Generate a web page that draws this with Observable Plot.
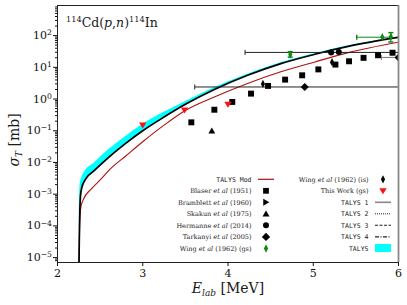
<!DOCTYPE html>
<html><head><meta charset="utf-8">
<script src="https://cdn.jsdelivr.net/npm/d3@7"></script>
<script src="https://cdn.jsdelivr.net/npm/@observablehq/plot@0.6"></script>
<style>body{margin:0;background:#fff} svg{display:block;background:#fff}</style>
</head><body><div id="chart"></div>
<script>
// ---- TALYS (lines 1-4, nearly coincident) ----
const talysE = [2.252, 2.258, 2.262, 2.27, 2.285, 2.33, 2.43, 2.6, 2.8, 3.0, 3.25, 3.5, 3.84, 4.23, 4.62, 5.02, 5.41, 6.0];
const talysS = [7e-6, 1e-4, 3e-4, 9e-4, 1.6e-3, 3.0e-3, 5.5e-3, 0.0145, 0.04, 0.1, 0.27, 0.68, 2.0, 5.6, 13.1, 25.8, 45.6, 88];
// ---- TALYS band ----
const bandE  = [2.256, 2.262, 2.27, 2.285, 2.33, 2.43, 2.6, 2.8, 3.0, 3.25, 3.5, 3.84, 4.23, 4.62, 5.02, 5.41, 6.0];
const bandLo = [1e-4, 2.5e-4, 7.5e-4, 1.4e-3, 2.6e-3, 4.8e-3, 0.013, 0.037, 0.092, 0.25, 0.64, 1.9, 5.4, 12.7, 25, 44.5, 86];
const bandHi = [3e-4, 1.5e-3, 2.4e-3, 3.3e-3, 5.6e-3, 9.5e-3, 0.025, 0.066, 0.16, 0.38, 0.82, 2.25, 6.1, 14, 27, 47.5, 91];
// ---- TALYS Mod ----
const modE = [2.253, 2.262, 2.275, 2.3, 2.4, 2.5, 2.62, 2.8, 3.0, 3.25, 3.49, 3.84, 4.23, 4.62, 5.02, 5.41, 6.0];
const modS = [7e-6, 1.5e-4, 4e-4, 6.5e-4, 1.5e-3, 2.8e-3, 6.3e-3, 0.016, 0.045, 0.15, 0.42, 1.16, 3.1, 7.2, 14.8, 29, 62];
// ---- experimental data ----
const blaserE = [3.57, 3.84, 4.05, 4.27, 4.47, 4.67, 4.87, 5.06, 5.26, 5.42, 5.59, 5.76, 5.93];
const blaserS = [0.184, 0.46, 0.81, 1.48, 2.59, 4.09, 5.6, 8.6, 12.2, 15.5, 19.9, 24.0, 28.8];
const skakunE = [3.81];
const skakunS = [0.1];
const hermanneE = [5.21, 5.30];
const hermanneS = [29.5, 30.5];
const hermanneXlo = [4.2];
const hermanneXhi = [6.22];
const hermanneErrE = [5.21];
const hermanneErrS = [29.5];
const tarkanyiE = [4.90, 6.0];
const tarkanyiS = [2.4, 20.5];
const tarkanyiXlo = [3.61, 5.8];
const tarkanyiXhi = [6.19, 6.2];
const wingIsE = [4.41, 5.22];
const wingIsS = [3.0, 14.5];
const wingGsE = [4.73, 5.81, 5.91];
const wingGsS = [25.5, 89, 92];
const wingGsYlo = [21, 89, 63];
const wingGsYhi = [31, 89, 124];
const wingGsXlo = [4.73, 5.51, 5.91];
const wingGsXhi = [4.73, 5.91, 5.91];
const thisWorkE = [3.0, 3.49, 4.0];
const thisWorkS = [0.15, 0.45, 0.68];
// ---- ticks ----
const xTicks = [2, 3, 4, 5, 6];
const yMajor = [1e-5, 1e-4, 1e-3, 1e-2, 1e-1, 1, 10, 100];

const zip = (xs, ys) => xs.map((x, i) => ({x, y: ys[i]}));
const talys = zip(talysE, talysS);
const band = bandE.map((x, i) => ({x, lo: bandLo[i], hi: bandHi[i]}));
const mod = zip(modE, modS);
const blaser = zip(blaserE, blaserS);
const skakun = zip(skakunE, skakunS);
const hermanne = zip(hermanneE, hermanneS);
const hermErr = hermanneErrE.map((x, i) => ({x, y: hermanneErrS[i], x1: hermanneXlo[i], x2: hermanneXhi[i]}));
const tarkanyi = zip(tarkanyiE, tarkanyiS);
const tarkErr = tarkanyiE.map((x, i) => ({x, y: tarkanyiS[i], x1: tarkanyiXlo[i], x2: tarkanyiXhi[i]}));
const wingIs = zip(wingIsE, wingIsS);
const wingGs = wingGsE.map((x, i) => ({x, y: wingGsS[i], y1: wingGsYlo[i], y2: wingGsYhi[i], x1: wingGsXlo[i], x2: wingGsXhi[i]}));
const wingGsH = wingGs.filter(d => d.x1 !== d.x2);
const wingGsV = wingGs.filter(d => d.y1 !== d.y2);
const thisWork = zip(thisWorkE, thisWorkS);

const yMinor = [];
for (let k = -6; k <= 2; k++) for (let m = 2; m <= 9; m++) { const v = m * Math.pow(10, k); if (v > 7e-6 && v < 890) yMinor.push(v); }

// custom symbols
const R = r => Math.sqrt(r / Math.PI);
const symTriDown = {draw(c, s) { const r = R(s); c.moveTo(-r*1.15, -r*0.8); c.lineTo(r*1.15, -r*0.8); c.lineTo(0, r*1.05); c.closePath(); }};
const symTriUp = {draw(c, s) { const r = R(s); c.moveTo(-r*1.1, r*0.85); c.lineTo(r*1.1, r*0.85); c.lineTo(0, -r*1.05); c.closePath(); }};
const symTriRight = {draw(c, s) { const r = R(s); c.moveTo(-r*0.85, -r*1.1); c.lineTo(-r*0.85, r*1.1); c.lineTo(r*1.05, 0); c.closePath(); }};
const symDiamond = {draw(c, s) { const r = R(s); c.moveTo(0, -r*1.3); c.lineTo(r*1.3, 0); c.lineTo(0, r*1.3); c.lineTo(-r*1.3, 0); c.closePath(); }};
const symThin = {draw(c, s) { const r = R(s); c.moveTo(0, -r*1.3); c.lineTo(r*0.65, 0); c.lineTo(0, r*1.3); c.lineTo(-r*0.65, 0); c.closePath(); }};
const symSquare = {draw(c, s) { const r = R(s)*0.9; c.rect(-r, -r, 2*r, 2*r); }};
const symVbar = {draw(c) { c.moveTo(0, -2.5); c.lineTo(0, 2.5); }};
const symHbar = {draw(c) { c.moveTo(-2.5, 0); c.lineTo(2.5, 0); }};

const W = 407, H = 305, mL = 57, mR = 9, mT = 5, mB = 43;
const serif = "DejaVu Serif";
const mono = "DejaVu Sans Mono";

const plot = Plot.plot({
  width: W, height: H,
  marginLeft: mL, marginRight: mR, marginTop: mT, marginBottom: mB,
  style: {fontFamily: serif, fontSize: "11px", color: "#111", background: "#fff"},
  x: {domain: [2, 6]},
  y: {type: "log", domain: [7e-6, 890]},
  marks: [
    Plot.areaY(band, {x: "x", y1: "lo", y2: "hi", fill: "#00ffff", curve: "monotone-x", clip: true}),
    Plot.line(mod, {x: "x", y: "y", stroke: "#b01010", strokeWidth: 1.1, curve: "monotone-x", clip: true}),
    Plot.line(talys, {x: "x", y: "y", stroke: "#000", strokeWidth: 1.7, curve: "monotone-x", clip: true}),
    // error bars
    Plot.link(tarkErr, {x1: "x1", x2: "x2", y1: "y", y2: "y", stroke: (d, i) => i === 0 ? "#222" : "#777", strokeWidth: 1, clip: true}),
    Plot.dot(tarkErr, {x: "x1", y: "y", symbol: symVbar, stroke: (d, i) => i === 0 ? "#222" : "#777", fill: "none", strokeWidth: 1, clip: true}),
    Plot.link(hermErr, {x1: "x1", x2: "x2", y1: "y", y2: "y", stroke: "#222", strokeWidth: 1, clip: true}),
    Plot.dot(hermErr, {x: "x1", y: "y", symbol: symVbar, stroke: "#222", fill: "none", strokeWidth: 1, clip: true}),
    Plot.link(wingGsH, {x1: "x1", x2: "x2", y1: "y", y2: "y", stroke: "#118811", strokeWidth: 1, clip: true}),
    Plot.dot(wingGsH, {x: "x1", y: "y", symbol: symVbar, stroke: "#118811", fill: "none", clip: true}),
    Plot.link(wingGsV, {x1: "x", x2: "x", y1: "y1", y2: "y2", stroke: "#118811", strokeWidth: 1, clip: true}),
    Plot.dot(wingGsV, {x: "x", y: "y1", symbol: symHbar, stroke: "#118811", fill: "none", clip: true}),
    Plot.dot(wingGsV, {x: "x", y: "y2", symbol: symHbar, stroke: "#118811", fill: "none", clip: true}),
    // markers
    Plot.dot(blaser, {x: "x", y: "y", symbol: symSquare, r: 3.3, fill: "#000", clip: true}),
    Plot.dot(skakun, {x: "x", y: "y", symbol: symTriUp, r: 3.1, fill: "#000", clip: true}),
    Plot.dot(hermanne, {x: "x", y: "y", r: 3, fill: "#000", clip: true}),
    Plot.dot(tarkanyi, {x: "x", y: "y", symbol: symDiamond, r: 3.1, fill: "#000", clip: true}),
    Plot.dot(wingIs, {x: "x", y: "y", symbol: symThin, r: 3.2, fill: "#000", clip: true}),
    Plot.dot(wingGs, {x: "x", y: "y", symbol: symThin, r: 3.2, fill: "#118811", clip: true}),
    Plot.dot(thisWork, {x: "x", y: "y", symbol: symTriDown, r: 3.2, fill: "#ff1010", clip: true}),
    // frame
    Plot.frame({stroke: "#222", strokeWidth: 1}),
    Plot.ruleX([6], {stroke: "#888", strokeWidth: 1.8}),
    // axes
    Plot.axisX(xTicks, {tickSize: 4, tickPadding: 2.5, fontSize: 11, label: null, tickFormat: d => String(d)}),
    Plot.axisY(yMajor, {tickSize: 4, tickPadding: 1.5, fontSize: 11, label: null, tickFormat: d => "10^" + Math.round(Math.log10(d))}),
    Plot.axisY(yMinor, {tickSize: 2, label: null, tickFormat: () => ""})
  ]
});
document.getElementById("chart").appendChild(plot);

const svg = d3.select(plot);
// superscripts on y tick labels
svg.selectAll('g[aria-label="y-axis tick label"] text').each(function() {
  const t = this.textContent;
  if (!t.startsWith("10^")) return;
  const e = t.slice(3).replace("-", "\u2212");
  const s = d3.select(this);
  s.text("10");
  s.append("tspan").attr("dy", "-0.5em").attr("font-size", "0.7em").text(e);
});

const ink = "#1a1a1a";
function rich(g, x, y, parts, anchor, size, family) {
  const t = g.append("text").attr("x", x).attr("y", y).attr("text-anchor", anchor)
    .attr("font-size", size).attr("font-family", family || serif).attr("fill", ink);
  for (const p of parts) {
    const ts = t.append("tspan").text(p.t);
    if (p.i) ts.attr("font-style", "italic");
    if (p.s) ts.attr("font-size", p.s);
    if (p.dy) ts.attr("dy", p.dy);
    if (p.f) ts.attr("font-family", p.f);
  }
  return t;
}

// title
rich(svg, 66, 27, [
  {t: "114", s: 8.2, dy: -5}, {t: "Cd(", s: 12.5, dy: 5}, {t: "p", i: 1, s: 12.5}, {t: ",", s: 12.5},
  {t: "n", i: 1, s: 12.5}, {t: ")", s: 12.5}, {t: "114", s: 8.2, dy: -5}, {t: "In", s: 12.5, dy: 5}
], "start", 12.5);

// axis labels
rich(svg, 228, 293, [{t: "E", i: 1}, {t: "lab", i: 1, s: 9, dy: 3}, {t: " [MeV]", dy: -3}], "middle", 14);
const yl = svg.append("g").attr("transform", "translate(19,140) rotate(-90)");
rich(yl, 0, 0, [{t: "σ", i: 1}, {t: "T", i: 1, s: 9, dy: 3}, {t: " [mb]", dy: -3}], "middle", 14);

// legend
const lg = svg.append("g");
const rowY = [179.3, 190.8, 202.3, 213.8, 225.3, 236.9, 248.5];
const fs = 6.5;
const etal = (a, b) => [{t: a}, {t: "et al", i: 1}, {t: b}];
const leftRows = [
  {parts: [{t: "TALYS Mod", f: mono}], line: {stroke: "#b01010", w: 1.2}},
  {parts: etal("Blaser ", " (1951)"), sym: symSquare, fill: "#000"},
  {parts: etal("Bramblett ", " (1960)"), sym: symTriRight, fill: "#000"},
  {parts: etal("Skakun ", " (1975)"), sym: symTriUp, fill: "#000"},
  {parts: etal("Hermanne ", " (2014)"), sym: d3.symbolCircle, fill: "#000", r: 3},
  {parts: etal("Tarkanyi ", " (2005)"), sym: symDiamond, fill: "#000"},
  {parts: etal("Wing ", " (1962) (gs)"), sym: symThin, fill: "#118811"}
];
const rightRows = [
  {parts: etal("Wing ", " (1962) (is)"), sym: symThin, fill: "#000"},
  {parts: [{t: "This Work (gs)"}], sym: symTriDown, fill: "#ff1010"},
  {parts: [{t: "TALYS 1", f: mono}], line: {stroke: "#888", w: 1.6}},
  {parts: [{t: "TALYS 2", f: mono}], line: {stroke: "#222", w: 1, dash: "1,1"}},
  {parts: [{t: "TALYS 3", f: mono}], line: {stroke: "#222", w: 1.1, dash: "3,1.5"}},
  {parts: [{t: "TALYS 4", f: mono}], line: {stroke: "#222", w: 1.1, dash: "4,1.5,1,1.5"}},
  {parts: [{t: "TALYS", f: mono}], rect: "#00ffff"}
];
function drawCol(rows, tx, mx, lx1, lx2) {
  rows.forEach((row, i) => {
    const y = rowY[i];
    rich(lg, tx, y + 2.3, row.parts, "end", fs);
    if (row.sym) {
      const r = row.r || 3.2;
      lg.append("path").attr("transform", `translate(${mx},${y})`)
        .attr("d", d3.symbol().type(row.sym).size(r * r * Math.PI)()).attr("fill", row.fill);
    }
    if (row.line) {
      lg.append("line").attr("x1", lx1).attr("x2", lx2).attr("y1", y).attr("y2", y)
        .attr("stroke", row.line.stroke).attr("stroke-width", row.line.w)
        .attr("stroke-dasharray", row.line.dash || null);
    }
    if (row.rect) {
      lg.append("rect").attr("x", lx1).attr("y", y - 4.5).attr("width", lx2 - lx1).attr("height", 8).attr("fill", row.rect);
    }
  });
}
drawCol(leftRows, 251.5, 266, 258, 274);
drawCol(rightRows, 368.5, 383, 375, 391);
</script></body></html>
